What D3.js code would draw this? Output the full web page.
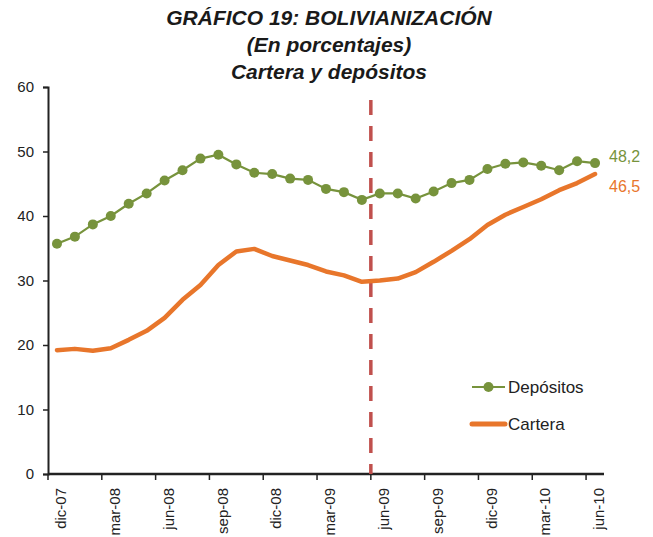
<!DOCTYPE html>
<html>
<head>
<meta charset="utf-8">
<script src="https://cdn.jsdelivr.net/npm/d3@7"></script>
<style>
body { margin: 0; background: #fff; }
text { font-family: "Liberation Sans", Arial, sans-serif; }
</style>
</head>
<body>
<div id="chart"></div>
<script>
var months = ["dic-07","ene-08","feb-08","mar-08","abr-08","may-08","jun-08","jul-08","ago-08","sep-08",
  "oct-08","nov-08","dic-08","ene-09","feb-09","mar-09","abr-09","may-09","jun-09","jul-09",
  "ago-09","sep-09","oct-09","nov-09","dic-09","ene-10","feb-10","mar-10","abr-10","may-10","jun-10"];

var depositos = [35.7, 36.8, 38.7, 40.0, 41.9, 43.5, 45.5, 47.1, 48.9, 49.5,
  48.0, 46.7, 46.5, 45.8, 45.6, 44.2, 43.7, 42.5, 43.5, 43.5,
  42.7, 43.8, 45.1, 45.6, 47.3, 48.1, 48.3, 47.8, 47.1, 48.5, 48.2];

var cartera = [19.2, 19.4, 19.1, 19.5, 20.8, 22.2, 24.2, 27.0, 29.3, 32.4,
  34.5, 34.9, 33.8, 33.1, 32.4, 31.4, 30.8, 29.8, 30.0, 30.3,
  31.3, 32.9, 34.6, 36.4, 38.6, 40.2, 41.4, 42.6, 44.0, 45.1, 46.5];

var yTicks = [0, 10, 20, 30, 40, 50, 60];
var titleLines = ["GRÁFICO 19: BOLIVIANIZACIÓN", "(En porcentajes)", "Cartera y depósitos"];
var markerMonth = "jun-09";

var W = 653, H = 537;
var plot = {left: 48, right: 604, top: 87, bottom: 474};

var svg = d3.select("#chart").append("svg")
  .attr("width", W)
  .attr("height", H);

var x = d3.scaleBand()
  .domain(months)
  .range([plot.left, plot.right]);

var y = d3.scaleLinear()
  .domain([0, 60])
  .range([plot.bottom, plot.top]);

var cx = function (d, i) { return x(months[i]) + x.bandwidth() / 2; };

// title
svg.selectAll(".title")
  .data(titleLines)
  .enter().append("text")
  .attr("class", "title")
  .attr("x", 329)
  .attr("y", function (d, i) { return 25 + i * 27; })
  .attr("text-anchor", "middle")
  .attr("font-size", 21)
  .attr("font-weight", "bold")
  .attr("font-style", "italic")
  .attr("fill", "#1a1a1a")
  .text(function (d) { return d; });

// y axis
var yAxis = d3.axisLeft(y)
  .tickValues(yTicks)
  .tickSize(5)
  .tickPadding(9);

var gy = svg.append("g")
  .attr("transform", "translate(" + plot.left + ",0)")
  .call(yAxis);
gy.select(".domain").attr("stroke", "#222").attr("stroke-width", 2);
gy.selectAll(".tick line").attr("stroke", "#222").attr("stroke-width", 1.5);
gy.selectAll(".tick text")
  .attr("font-size", 15)
  .attr("fill", "#222")
  .attr("font-family", "Liberation Sans, Arial, sans-serif");

// x axis: ticks at band boundaries every 3 months
var labelMonths = months.filter(function (d, i) { return i % 3 === 0; });

svg.append("line")
  .attr("x1", plot.left).attr("x2", plot.right)
  .attr("y1", y(0)).attr("y2", y(0))
  .attr("stroke", "#222")
  .attr("stroke-width", 2.5);

svg.selectAll(".xtick")
  .data(labelMonths)
  .enter().append("line")
  .attr("class", "xtick")
  .attr("x1", function (d) { return x(d); })
  .attr("x2", function (d) { return x(d); })
  .attr("y1", y(0))
  .attr("y2", y(0) + 6)
  .attr("stroke", "#222")
  .attr("stroke-width", 1.5);

svg.selectAll(".xlabel")
  .data(labelMonths)
  .enter().append("text")
  .attr("class", "xlabel")
  .attr("transform", function (d) {
    return "translate(" + (x(d) + x.bandwidth() / 2 + 4) + "," + (y(0) + 14) + ") rotate(-90)";
  })
  .attr("dy", "0.35em")
  .attr("text-anchor", "end")
  .attr("font-size", 15)
  .attr("fill", "#222")
  .text(function (d) { return d; });

// dashed marker line
svg.append("line")
  .attr("x1", x(markerMonth)).attr("x2", x(markerMonth))
  .attr("y1", y(58)).attr("y2", y(0))
  .attr("stroke", "#C0504D")
  .attr("stroke-width", 3.5)
  .attr("stroke-dasharray", "15,11");

// cartera line
var line = d3.line()
  .x(cx)
  .y(function (d) { return y(d); });

svg.append("path")
  .datum(cartera)
  .attr("fill", "none")
  .attr("stroke", "#E8762B")
  .attr("stroke-width", 4.5)
  .attr("stroke-linejoin", "round")
  .attr("stroke-linecap", "round")
  .attr("d", line);

// depositos line + markers
svg.append("path")
  .datum(depositos)
  .attr("fill", "none")
  .attr("stroke", "#77933C")
  .attr("stroke-width", 2.2)
  .attr("d", line);

svg.selectAll(".dot")
  .data(depositos)
  .enter().append("circle")
  .attr("class", "dot")
  .attr("cx", cx)
  .attr("cy", function (d) { return y(d); })
  .attr("r", 5)
  .attr("fill", "#77933C");

// end labels
var last = months.length - 1;
svg.append("text")
  .attr("x", cx(null, last) + 14)
  .attr("y", y(depositos[last]) - 1)
  .attr("font-size", 16)
  .attr("fill", "#77933C")
  .text(d3.format(".1f")(depositos[last]).replace(".", ","));

svg.append("text")
  .attr("x", cx(null, last) + 14)
  .attr("y", y(cartera[last]) + 18)
  .attr("font-size", 16)
  .attr("fill", "#E8762B")
  .text(d3.format(".1f")(cartera[last]).replace(".", ","));

// legend
var legend = svg.append("g").attr("transform", "translate(472,387)");
legend.append("line")
  .attr("x1", 0).attr("x2", 33).attr("y1", 0).attr("y2", 0)
  .attr("stroke", "#77933C").attr("stroke-width", 2.2);
legend.append("circle")
  .attr("cx", 16.5).attr("cy", 0).attr("r", 5).attr("fill", "#77933C");
legend.append("text")
  .attr("x", 36).attr("y", 6)
  .attr("font-size", 17).attr("fill", "#222")
  .text("Depósitos");
legend.append("line")
  .attr("x1", 0).attr("x2", 33).attr("y1", 37).attr("y2", 37)
  .attr("stroke", "#E8762B").attr("stroke-width", 5).attr("stroke-linecap", "round");
legend.append("text")
  .attr("x", 36).attr("y", 43)
  .attr("font-size", 17).attr("fill", "#222")
  .text("Cartera");
</script>
</body>
</html>
